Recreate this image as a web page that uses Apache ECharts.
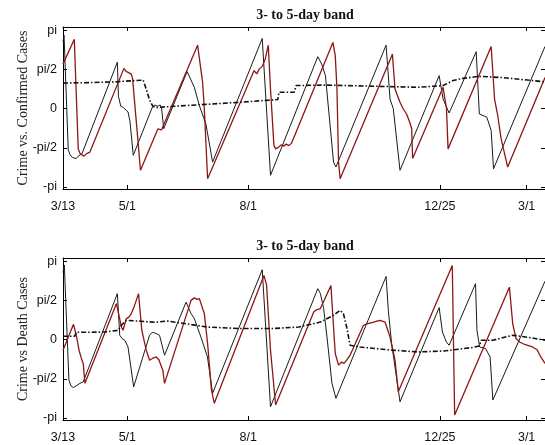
<!DOCTYPE html>
<html>
<head>
<meta charset="utf-8">
<script src="https://cdn.jsdelivr.net/npm/echarts@6.0.0/dist/echarts.min.js"></script>
<style>
  html, body { margin: 0; padding: 0; background: #fff; }
  #main { width: 545px; height: 445px; }
</style>
</head>
<body>
<div id="main"></div>
<script>
// x = days since 3/13, y = phase in radians
var xTickDays = [0, 49, 141, 287, 353];
var xTickLabels = ['3/13', '5/1', '8/1', '12/25', '3/1'];
var yTickVals = [-Math.PI, -Math.PI / 2, 0, Math.PI / 2, Math.PI];
var yTickLabels = ['-pi', '-pi/2', '0', 'pi/2', 'pi'];

var titles = ['3- to 5-day band', '3- to 5-day band'];
var yNames = ['Crime vs. Confirmed Cases', 'Crime vs Death Cases'];

var confBlack = [[0, 2.7], [0.8, 2.95], [4, -1.66], [5.5, -1.85], [7, -1.95], [8.5, -1.88], [10, -2.0],
  [11.6, -1.9], [13, -1.95], [14.5, -1.8], [41.4, 1.87], [42.2, 0.5], [44, 0.1], [46, 0.05],
  [49.5, -0.13], [51, -0.5], [53.5, -1.87], [68, 0.06], [70, 0.15], [72, 0.1], [74, 0.15],
  [75, 0.05], [76.7, -0.8], [94.5, 1.49], [100, 0.86], [103.8, 0.13], [108.8, -0.61],
  [113.9, -2.14], [151.7, 2.82], [158, -2.67], [194, 2.09], [197, 1.79], [199.8, 1.33],
  [206, -2.14], [207.8, -2.34], [246, 2.55], [249, 0.39], [251.5, 0.0], [256.6, -2.47],
  [286.4, 1.33], [289.4, 0.39], [294, -0.17], [314.6, 2.29], [317, -0.21], [322.7, -0.34],
  [326, -0.87], [327.8, -2.41], [367, 2.5]];

var confRed = [[0, 1.79], [8.6, 2.79], [11.6, -1.61], [13, -1.8], [14.2, -1.82], [16, -1.9],
  [18, -1.8], [20.5, -1.74], [46.4, 1.62], [48, 1.5], [50, 1.45], [52, 1.39], [53, 1.2],
  [54, 1.13], [59, -2.47], [72.2, -0.81], [73.5, -0.78], [75, -0.85], [102.5, 2.55],
  [106.3, 1.06], [107.6, 0.0], [110.1, -2.81], [145.5, 1.53], [147.5, 1.4], [149.5, 1.6],
  [151.7, 1.7], [154, 2.0], [156.3, 2.55], [158, 0.79], [160.6, -1.47], [161.9, -1.61],
  [164, -1.55], [166, -1.45], [168, -1.5], [170, -1.42], [172, -1.48], [174, -1.38],
  [205.5, 2.66], [207.3, 2.13], [208.6, 0.79], [209.8, -2.14], [211, -2.81], [250.8, 2.19],
  [252.8, 0.79], [256.6, 0.26], [259, 0.0], [261.6, -0.21], [264, -0.54], [265.5, -0.8],
  [266.2, -2.0], [289.4, 0.86], [292, 0.0], [293.2, -1.61], [326, 2.5], [328.6, 0.39],
  [331, -0.27], [333.6, -1.21], [338.6, -2.34], [367, 1.25]];

var confDash = [[0, 1.03], [20, 1.05], [40, 1.08], [55, 1.13], [61, 1.15], [63.4, 0.79],
  [65.9, 0.35], [68.4, 0.1], [71, 0.05], [85, 0.1], [110, 0.18], [135, 0.26], [163.5, 0.37],
  [164.5, 0.66], [176, 0.66], [177.5, 0.93], [200, 0.95], [240, 0.9], [270, 0.86],
  [289.4, 0.93], [297, 1.13], [304.5, 1.22], [317, 1.3], [335, 1.25], [350, 1.17], [367, 1.08]];

var deathBlack = [[0, 2.7], [1, 3.0], [4.5, -1.62], [6, -1.85], [8, -1.92], [10, -1.85],
  [12.9, -1.75], [15.4, -1.69], [41.4, 1.85], [43.2, 0.18], [45, 0.05], [47, -0.02],
  [49.5, -0.29], [53.8, -1.89], [65.9, 0.18], [68, 0.3], [71, 0.25], [73.5, 0.18],
  [77.3, -0.62], [93.7, 1.51], [97.5, 1.05], [100, 0.85], [105, 0.11], [110, -0.69],
  [113.9, -2.15], [151.7, 2.81], [158, -2.69], [194, 2.05], [196, 1.85], [198.5, 1.25],
  [201, 0.11], [204.8, -1.75], [207.8, -2.35], [246, 2.54], [247.7, 1.18], [250.2, -0.15],
  [256.6, -2.49], [286.4, 1.29], [288.9, 0.31], [291.9, -0.09], [294, -0.22], [314.1, 2.25],
  [315.2, 0.38], [317.2, -0.29], [321.7, -0.35], [325.2, -0.69], [327.3, -2.42], [367, 2.35]];

var deathRed = [[0, -0.42], [8, 0.62], [10.4, 0.11], [12.2, -0.42], [14, -0.75], [15.4, -0.95],
  [16.7, -1.75], [40.7, 1.45], [44.5, 0.51], [45.7, 0.38], [48.2, 0.85], [50, 0.9], [52, 1.05],
  [54, 1.3], [57.5, 1.85], [60, 0.38], [63.4, -0.42], [65.9, -0.82], [68, -0.75], [71, -0.69],
  [73, -0.8], [76, -1.22], [77.3, -1.75], [97.5, 1.58], [100, 1.68], [102, 1.62], [103.8, 1.65],
  [107.6, 1.05], [110.1, -0.15], [113, -2.0], [115.2, -2.55], [153, 2.58], [155, 2.2],
  [158, -0.42], [161.9, -2.62], [190.9, 1.11], [193, 1.2], [196, 1.25], [204, 2.18],
  [205.5, 0.91], [207.3, -0.55], [209.8, -1.02], [212, -0.9], [214, -0.95], [216, -0.82],
  [218.6, -0.62], [228.8, 0.58], [232, 0.65], [236, 0.7], [239, 0.75], [241.4, 0.78],
  [245.2, 0.71], [249, 0.11], [252.8, -0.82], [255.3, -2.09], [296.4, 2.98], [298.2, -3.02],
  [339.9, 2.11], [342.4, 0.65], [344.9, 0.05], [348, -0.1], [352, -0.2], [357.5, -0.29],
  [361, -0.4], [363.8, -0.69], [367, -0.95]];

var deathDash = [[0, 0.14], [9, 0.14], [10, 0.3], [11, 0.35], [20, 0.3], [31.8, 0.31], [42, 0.38],
  [44.5, 0.58], [48.2, 0.78], [59.6, 0.74], [70, 0.7], [79.8, 0.75], [84.8, 0.71], [110, 0.51],
  [135, 0.45], [160, 0.45], [179.5, 0.51], [196, 0.71], [206, 0.98], [211, 1.18], [213.5, 1.05],
  [216, 0.51], [218.6, -0.22], [226, -0.29], [251.2, -0.42], [270.5, -0.49], [290, -0.45],
  [312, -0.31], [317, -0.25], [318.5, -0.02], [327.3, -0.02], [342.4, 0.18], [355, 0.09], [367, -0.02]];

var grids = [{ left: 63, top: 27, width: 485, height: 162 },
             { left: 63, top: 258, width: 485, height: 162 }];

function xLabel(v) {
  var i = xTickDays.indexOf(Math.round(v));
  return i >= 0 ? xTickLabels[i] : '';
}
function yLabel(v) {
  for (var i = 0; i < yTickVals.length; i++) {
    if (Math.abs(yTickVals[i] - v) < 1e-6) return yTickLabels[i];
  }
  return '';
}

var labelFont = { fontFamily: 'Liberation Sans', fontSize: 12.5, color: '#111' };
var xAxes = [], yAxes = [];
[0, 1].forEach(function (g) {
  ['bottom', 'top'].forEach(function (pos) {
    xAxes.push({
      type: 'value', gridIndex: g, position: pos, min: 0, max: 367,
      axisLine: { show: true, onZero: false, lineStyle: { color: '#000', width: 1 } },
      axisTick: { show: true, inside: true, length: 4, customValues: xTickDays, lineStyle: { color: '#000' } },
      axisLabel: Object.assign({ show: pos === 'bottom', customValues: xTickDays, formatter: xLabel, margin: 11 }, labelFont),
      splitLine: { show: false }
    });
  });
  ['left', 'right'].forEach(function (pos) {
    yAxes.push({
      type: 'value', gridIndex: g, position: pos, min: -3.22, max: 3.28,
      name: pos === 'left' ? yNames[g] : '',
      nameLocation: 'middle', nameGap: 33, nameMoveOverlap: false,
      nameTextStyle: { fontFamily: 'Liberation Serif', fontSize: 14, color: '#222' },
      axisLine: { show: true, onZero: false, lineStyle: { color: '#000', width: 1 } },
      axisTick: { show: true, inside: true, length: 4, customValues: yTickVals, lineStyle: { color: '#000' } },
      axisLabel: Object.assign({ show: pos === 'left', customValues: yTickVals, formatter: yLabel, margin: 6 }, labelFont),
      splitLine: { show: false }
    });
  });
});

function line(data, g, kind) {
  var style;
  if (kind === 'black') style = { color: '#1a1a1a', width: 1 };
  else if (kind === 'red') style = { color: '#8e1515', width: 1.3 };
  else style = { color: '#111', width: 1.6, type: [5, 2, 1.5, 2] };
  return {
    type: 'line', xAxisIndex: g * 2, yAxisIndex: g * 2, data: data,
    showSymbol: false, symbol: 'none', lineStyle: style, silent: true, z: kind === 'dash' ? 3 : 2,
    clip: true
  };
}

var titleStyle = { fontFamily: 'Liberation Serif', fontWeight: 'bold', fontSize: 14, color: '#111' };
var chart = echarts.init(document.getElementById('main'), null, { renderer: 'canvas' });
chart.setOption({
  animation: false,
  backgroundColor: '#fff',
  title: [
    { text: titles[0], left: 305, top: 8, textAlign: 'center', padding: 0, textStyle: titleStyle },
    { text: titles[1], left: 305, top: 239, textAlign: 'center', padding: 0, textStyle: titleStyle }
  ],
  grid: grids,
  xAxis: xAxes,
  yAxis: yAxes,
  series: [
    line(confBlack, 0, 'black'),
    line(confRed, 0, 'red'),
    line(confDash, 0, 'dash'),
    line(deathBlack, 1, 'black'),
    line(deathRed, 1, 'red'),
    line(deathDash, 1, 'dash')
  ]
});
</script>
</body>
</html>
